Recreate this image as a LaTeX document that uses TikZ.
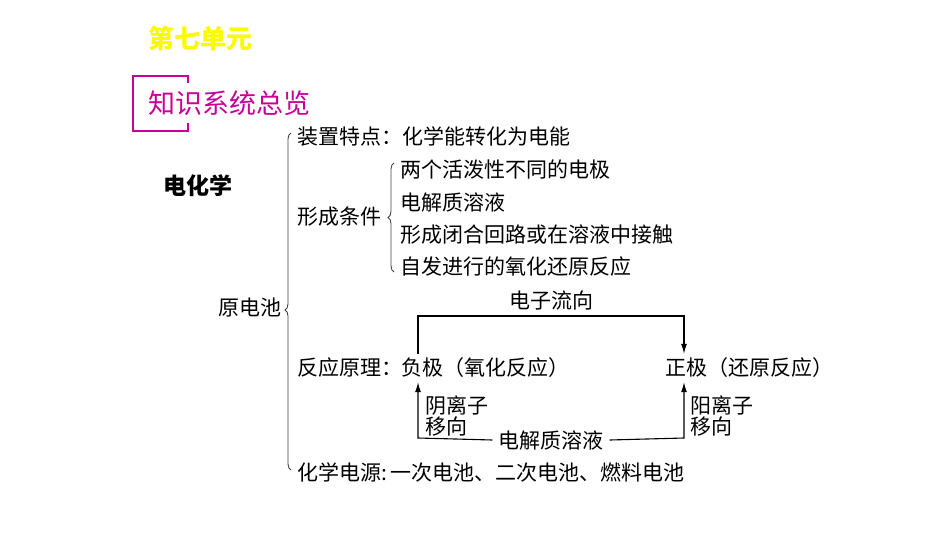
\documentclass[tikz,border=0pt]{standalone}
\usepackage{fontspec}
\setmainfont{Noto Sans CJK SC}
\usetikzlibrary{positioning,arrows.meta,decorations.pathreplacing}
\definecolor{titleyellow}{RGB}{250,250,0}
\definecolor{framepink}{RGB}{200,0,150}

\begin{document}
\begin{tikzpicture}[
    x=1pt, y=-1pt,
    item/.style={%
      inner sep=0pt,
      anchor=west,
      font=\fontsize{21}{24}\selectfont,
    },
    pole/.style={%
      item,
      inner ysep=4pt,
    },
    conn/.style={%
      line width=1.1pt,
      -{Latex[length=10pt,width=6pt]},
    },
    bracket/.style={%
      draw=black!75,
      line width=0.9pt,
      decorate,
      decoration={brace,amplitude=6pt,aspect=#1},
    },
  ]
    \useasboundingbox (0,0) rectangle (950,535);

    \node [font=\fontsize{26}{28}\selectfont\bfseries, text=titleyellow] (T) at (200,38) {第七单元};
    \draw [framepink, line width=1.2pt] (188,83) -- (188,76) -- (133,76) -- (133,131) -- (188,131) -- (188,123);
    \node [item, font=\fontsize{27}{30}\selectfont, text=framepink] (K) at (148,103) {知识系统总览};
    \node [item, font=\fontsize{23}{26}\selectfont\bfseries] (E) at (163,186) {电化学};

    \node [item, anchor=east] (Y) at (282,308) {原电池};
    \draw [bracket=0.475] (291,470) -- (291,133);

    \node [item] (A) at (297,136) {装置特点：化学能转化为电能};
    \node [item] (B) at (297,217) {形成条件};
    \node [item] (C) at (297,368) {反应原理：};
    \node [item] (D) at (297,472) {化学电源:\,一次电池、二次电池、燃料电池};

    \draw [bracket=0.5] (394,272) -- (394,163);
    \node [item] (B1) at (400,170) {两个活泼性不同的电极};
    \path (B1.west) ++(0,32) node [item] (B2) {电解质溶液};
    \path (B2.west) ++(0,33) node [item] (B3) {形成闭合回路或在溶液中接触};
    \path (B3.west) ++(0,32) node [item] (B4) {自发进行的氧化还原反应};

    \node [pole] (N) at (401,368) {负极（氧化反应）};
    \node [pole] (P) at (665,368) {正极（还原反应）};
    \node [item, anchor=center] (F) at (551,300) {电子流向};
    \node [item, anchor=center, inner xsep=6pt] (S) at (551,440) {电解质溶液};
    \node [item, align=left, font=\fontsize{21}{21}\selectfont] (NA) at (425,416) {阴离子\\移向};
    \node [item, align=left, font=\fontsize{21}{21}\selectfont] (PA) at (690,416) {阳离子\\移向};

    \coordinate (L1) at (418,316);
    \coordinate (R1) at (684,316);
    \coordinate (L2) at (418,438);
    \coordinate (R2) at (684,438);

    \draw [conn] (L1 |- N.north) -- (L1) -- (R1) -- (R1 |- P.north);
    \draw [conn] (S.west) -- (L2) -- (L2 |- N.south);
    \draw [conn] (S.east) -- (R2) -- (R2 |- P.south);
\end{tikzpicture}
\end{document}
